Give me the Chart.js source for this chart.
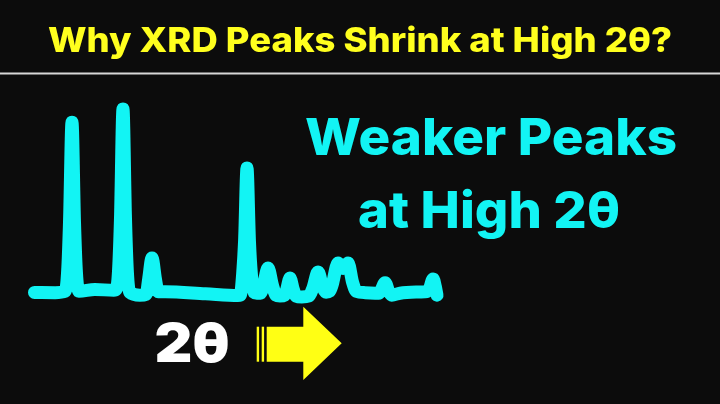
<!DOCTYPE html>
<html>
<head>
<meta charset="utf-8">
<script src="https://cdn.jsdelivr.net/npm/chart.js@4.4.1/dist/chart.umd.min.js"></script>
<style>
  html, body { margin: 0; padding: 0; background: #0c0c0c; }
  #wrap { width: 720px; height: 404px; }
</style>
</head>
<body>
<div id="wrap"><canvas id="xrdChart" width="720" height="404"></canvas></div>
<script>
// 텍스트
const titleText = 'Why XRD Peaks Shrink at High 2θ?';
const sideLines = ['Weaker Peaks', 'at High 2θ'];
const axisLabel = '2θ';

// XRD 패턴 (2θ, 세기) - 그림에서 읽은 값
const twoTheta = [
  11.1, 14.6, 16.3, 16.7, 17.02, 17.44, 17.86, 18.18, 18.6,
  21.3, 24.5, 24.9, 25.3, 25.64, 26.06, 26.48, 26.8, 27.2, 28.9,
  30.0, 30.4, 30.97, 31.55, 32.0, 33.2,
  40.0, 45.5, 45.9, 46.3, 46.62, 47.03, 47.44, 47.76, 48.2, 48.7,
  49.3, 49.8, 50.58, 51.35, 51.9, 52.6,
  53.4, 53.75, 54.3, 54.85, 55.3, 56.3,
  57.5, 58.2, 59.04, 59.85, 60.4, 61.0,
  61.4, 62.42, 63.27, 64.12, 64.9, 65.5, 67.0,
  69.3, 69.7, 70.37, 71.0, 71.5, 72.9,
  77.1, 77.5, 77.95, 78.5, 78.87, 79.15
];
const intensity = [
  2.9, 2.8, 3.5, 14, 40, 92, 40, 14, 3.5,
  4.5, 4.0, 4.5, 14, 42, 99, 42, 14, 3, 1.5,
  2, 10, 21, 10, 3.3, 3.3,
  2.2, 1.3, 1.5, 13, 30, 68, 30, 13, 3, 2.5,
  2.5, 6.5, 15.7, 6.5, 1.5, 1,
  1.5, 4.5, 10.5, 4.5, 1, 0.5,
  1, 5.5, 13.6, 5.5, 3, 3.5,
  6.5, 18.3, 15.5, 18.3, 8, 3.5, 2.8,
  2.5, 4, 8, 3.5, 1.5, 2.5,
  3.3, 3.5, 5.5, 10, 6, 1.5
];

const points = twoTheta.map((x, i) => ({ x: x, y: intensity[i] }));

// 글자 폭 맞추기
function fitText(ctx, text, cx, baseline, size, width, weight, family, color) {
  ctx.save();
  ctx.font = weight + ' ' + size + 'px ' + family;
  const w = ctx.measureText(text).width;
  ctx.translate(cx, baseline);
  ctx.scale(width / w, 1);
  ctx.fillStyle = color;
  ctx.textAlign = 'center';
  ctx.textBaseline = 'alphabetic';
  ctx.fillText(text, 0, 0);
  ctx.restore();
}

const decorations = {
  id: 'decorations',
  beforeDraw(chart) {
    const ctx = chart.ctx;
    ctx.save();
    ctx.fillStyle = '#0c0c0c';
    ctx.fillRect(0, 0, chart.width, chart.height);
    ctx.restore();
  },
  afterDraw(chart) {
    const ctx = chart.ctx;
    // 제목
    fitText(ctx, titleText, 360, 52, 34, 624, '800', 'Inter, "Open Sans", sans-serif', '#ffff1e');
    // 구분선
    ctx.save();
    ctx.strokeStyle = '#d8d8d8';
    ctx.lineWidth = 2;
    ctx.beginPath();
    ctx.moveTo(0, 73.5);
    ctx.lineTo(720, 73.5);
    ctx.stroke();
    ctx.restore();
    // 오른쪽 문구
    fitText(ctx, sideLines[0], 491, 155, 51, 372, '800', 'Inter, sans-serif', '#12f4f4');
    fitText(ctx, sideLines[1], 489, 228, 51, 262, '800', 'Inter, sans-serif', '#12f4f4');
    // 2θ
    fitText(ctx, axisLabel, 192, 362, 54, 75, '900', 'Inter, sans-serif', '#ffffff');
    // 화살표
    ctx.save();
    ctx.fillStyle = '#ffff14';
    ctx.fillRect(256.7, 326.7, 2.4, 35);
    ctx.fillRect(261.7, 326.7, 2.4, 35);
    ctx.beginPath();
    ctx.moveTo(266.7, 326.7);
    ctx.lineTo(303.3, 326.7);
    ctx.lineTo(303.3, 306.7);
    ctx.lineTo(341.7, 343.3);
    ctx.lineTo(303.3, 380);
    ctx.lineTo(303.3, 361.7);
    ctx.lineTo(266.7, 361.7);
    ctx.closePath();
    ctx.fill();
    ctx.restore();
  }
};

const ctx = document.getElementById('xrdChart').getContext('2d');
new Chart(ctx, {
  type: 'line',
  data: {
    datasets: [{
      data: points,
      borderColor: '#12f4f4',
      borderWidth: 13,
      borderCapStyle: 'round',
      borderJoinStyle: 'round',
      cubicInterpolationMode: 'monotone',
      pointRadius: 0,
      fill: false,
      clip: false
    }]
  },
  options: {
    responsive: false,
    animation: false,
    layout: { padding: { left: 28, right: 278, top: 107, bottom: 106 } },
    scales: {
      x: { type: 'linear', min: 10, max: 80, display: false },
      y: { min: 0, max: 100, display: false }
    },
    plugins: {
      legend: { display: false },
      tooltip: { enabled: false }
    }
  },
  plugins: [decorations]
});
</script>
</body>
</html>
